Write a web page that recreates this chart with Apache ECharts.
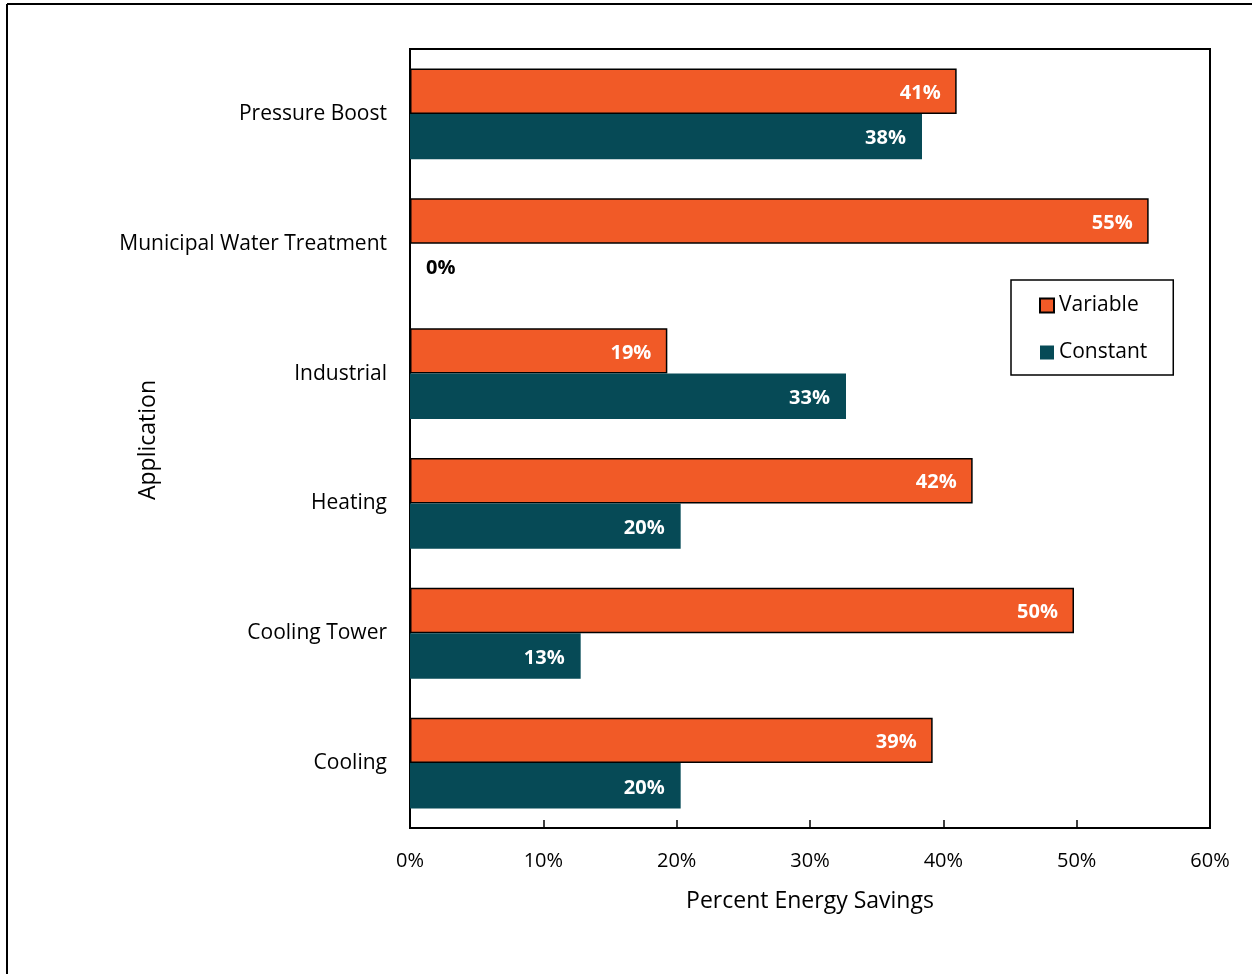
<!DOCTYPE html>
<html>
<head>
<meta charset="utf-8">
<script src="https://cdn.jsdelivr.net/npm/echarts@6/dist/echarts.min.js"></script>
<style>
  html, body { margin: 0; padding: 0; background: #fff; }
  #chart { width: 1252px; height: 974px; }
</style>
</head>
<body>
<div id="chart"></div>
<script>
// Applications, top to bottom
const categories = ['Pressure Boost', 'Municipal Water Treatment', 'Industrial', 'Heating', 'Cooling Tower', 'Cooling'];
// Percent energy savings by system type
const variableSavings = [41.0, 55.4, 19.3, 42.2, 49.8, 39.2];
const constantSavings = [38.4, 0, 32.7, 20.3, 12.8, 20.3];
const xTicks = { min: 0, max: 60, step: 10 };

const FONT = 'Open Sans';
const ORANGE = '#F15A27';
const TEAL = '#064A56';

const pct = p => Math.round(p.value) + '%';

const chart = echarts.init(document.getElementById('chart'), null, { renderer: 'canvas' });

function constantData() {
  return constantSavings.map(v => v === 0
    ? { value: v, label: { position: 'right', distance: 16, color: '#000' } }
    : v);
}

const valueLabel = {
  show: true, position: 'insideRight', distance: 16, offset: [0, 2],
  formatter: pct, color: '#fff', fontWeight: 'bold', fontFamily: FONT, fontSize: 20
};

chart.setOption({
  animation: false,
  backgroundColor: '#fff',
  textStyle: { fontFamily: FONT },
  grid: {
    left: 410, right: 42, top: 49, bottom: 146,
    show: true, borderColor: '#000', borderWidth: 2
  },
  legend: {
    orient: 'vertical',
    left: 1011, top: 280,
    data: ['Variable', 'Constant'],
    itemWidth: 14, itemHeight: 14, itemGap: 26,
    icon: 'rect',
    padding: [15, 26, 12, 28],
    borderColor: '#000', borderWidth: 1.5,
    textStyle: { fontFamily: FONT, fontSize: 21, color: '#000' }
  },
  xAxis: {
    type: 'value',
    min: xTicks.min, max: xTicks.max, interval: xTicks.step,
    axisLine: { show: true, lineStyle: { color: '#000', width: 2 } },
    axisTick: { show: true, inside: true, length: 8, lineStyle: { color: '#000', width: 1.5 } },
    splitLine: { show: false },
    axisLabel: { formatter: '{value}%', fontFamily: FONT, fontSize: 20, color: '#000', margin: 23 },
    name: 'Percent Energy Savings',
    nameLocation: 'middle', nameGap: 62,
    nameTextStyle: { fontFamily: FONT, fontSize: 23, color: '#000' }
  },
  yAxis: {
    type: 'category',
    data: categories,
    inverse: true,
    axisLine: { show: true, lineStyle: { color: '#000', width: 2 } },
    axisTick: { show: false },
    axisLabel: { fontFamily: FONT, fontSize: 21, color: '#000', margin: 23 }
  },
  series: [
    {
      name: 'Variable',
      type: 'bar',
      data: variableSavings,
      barGap: '0%',
      barCategoryGap: '30%',
      itemStyle: { color: ORANGE, borderColor: '#000', borderWidth: 1.5 },
      label: valueLabel
    },
    {
      name: 'Constant',
      type: 'bar',
      data: constantData(),
      itemStyle: { color: TEAL },
      label: valueLabel
    }
  ],
  graphic: [
    { type: 'line', shape: { x1: 7, y1: 4, x2: 1252, y2: 4 }, style: { stroke: '#000', lineWidth: 2 } },
    { type: 'line', shape: { x1: 7, y1: 4, x2: 7, y2: 974 }, style: { stroke: '#000', lineWidth: 2 } },
    // Vertical axis title
    {
      type: 'text', x: 148, y: 440, rotation: Math.PI / 2,
      style: {
        text: 'Application', fill: '#000', font: '23px "Open Sans"',
        textAlign: 'center', textVerticalAlign: 'middle'
      }
    }
  ]
});
</script>
</body>
</html>
